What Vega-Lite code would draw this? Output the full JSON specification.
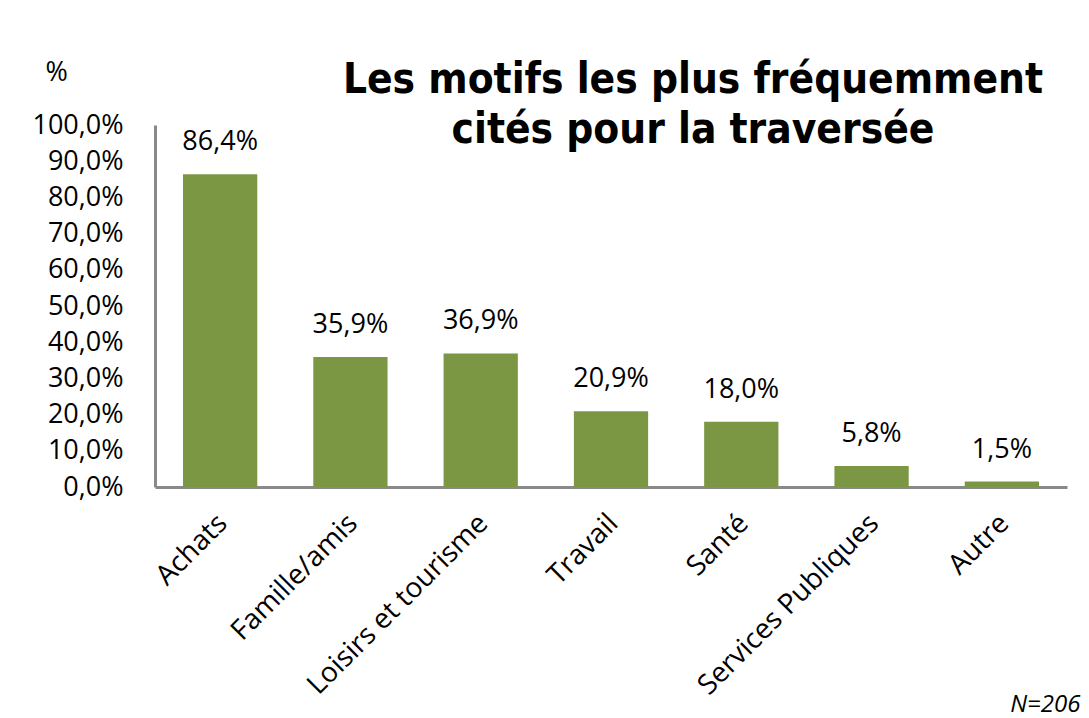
{
  "$schema": "https://vega.github.io/schema/vega-lite/v6.json",
  "autosize": {"type": "none"},
  "width": 912,
  "height": 362,
  "padding": {"left": 155, "top": 125, "right": 22, "bottom": 231},
  "background": "white",
  "config": {
    "locale": {"number": {"decimal": ",", "thousands": " ", "grouping": [3], "currency": ["", " €"]}},
    "view": {"stroke": null},
    "font": "Open Sans"
  },
  "title": {
    "text": ["Les motifs les plus fréquemment", "cités pour la traversée"],
    "anchor": "middle",
    "dx": 82,
    "orient": "top",
    "offset": -94,
    "baseline": "top",
    "font": "DejaVu Sans Condensed, Roboto",
    "fontWeight": "bold",
    "fontSize": 42,
    "lineHeight": 50,
    "color": "black"
  },
  "data": {
    "values": [
      {"motif": "Achats", "pct": 0.864},
      {"motif": "Famille/amis", "pct": 0.359},
      {"motif": "Loisirs et tourisme", "pct": 0.369},
      {"motif": "Travail", "pct": 0.209},
      {"motif": "Santé", "pct": 0.180},
      {"motif": "Services Publiques", "pct": 0.058},
      {"motif": "Autre", "pct": 0.015}
    ]
  },
  "encoding": {
    "x": {
      "field": "motif",
      "type": "nominal",
      "sort": null,
      "scale": {"paddingInner": 0.43, "paddingOuter": 0.215},
      "axis": {
        "title": "N=206",
        "titleFontStyle": "italic",
        "titleFontWeight": "normal",
        "titleFontSize": 24,
        "titleColor": "black",
        "titleAnchor": null,
        "titleAlign": "right",
        "titleBaseline": "alphabetic",
        "titleX": 925,
        "titleY": 224,
        "labelAngle": -45,
        "labelFontSize": 28,
        "labelColor": "black",
        "labelPadding": 22,
        "labelOffset": -7,
        "labelLimit": 500,
        "ticks": false,
        "domainColor": "#898989",
        "domainWidth": 3
      }
    },
    "y": {
      "field": "pct",
      "type": "quantitative",
      "scale": {"domain": [0, 1]},
      "axis": {
        "values": [0, 0.1, 0.2, 0.3, 0.4, 0.5, 0.6, 0.7, 0.8, 0.9, 1.0],
        "format": ".1%",
        "grid": false,
        "ticks": false,
        "labelPadding": 32,
        "labelFontSize": 27,
        "labelColor": "black",
        "domainColor": "#898989",
        "domainWidth": 3,
        "title": "%",
        "titleAngle": 0,
        "titleAlign": "left",
        "titleBaseline": "alphabetic",
        "titleX": -110,
        "titleY": -45,
        "titleFontSize": 27,
        "titleFontWeight": "normal",
        "titleColor": "black"
      }
    }
  },
  "layer": [
    {"mark": {"type": "bar", "color": "#7b9743"}},
    {
      "mark": {"type": "text", "dy": -24, "baseline": "alphabetic", "fontSize": 27, "color": "black"},
      "encoding": {"text": {"field": "pct", "type": "quantitative", "format": ".1%"}}
    }
  ]
}
